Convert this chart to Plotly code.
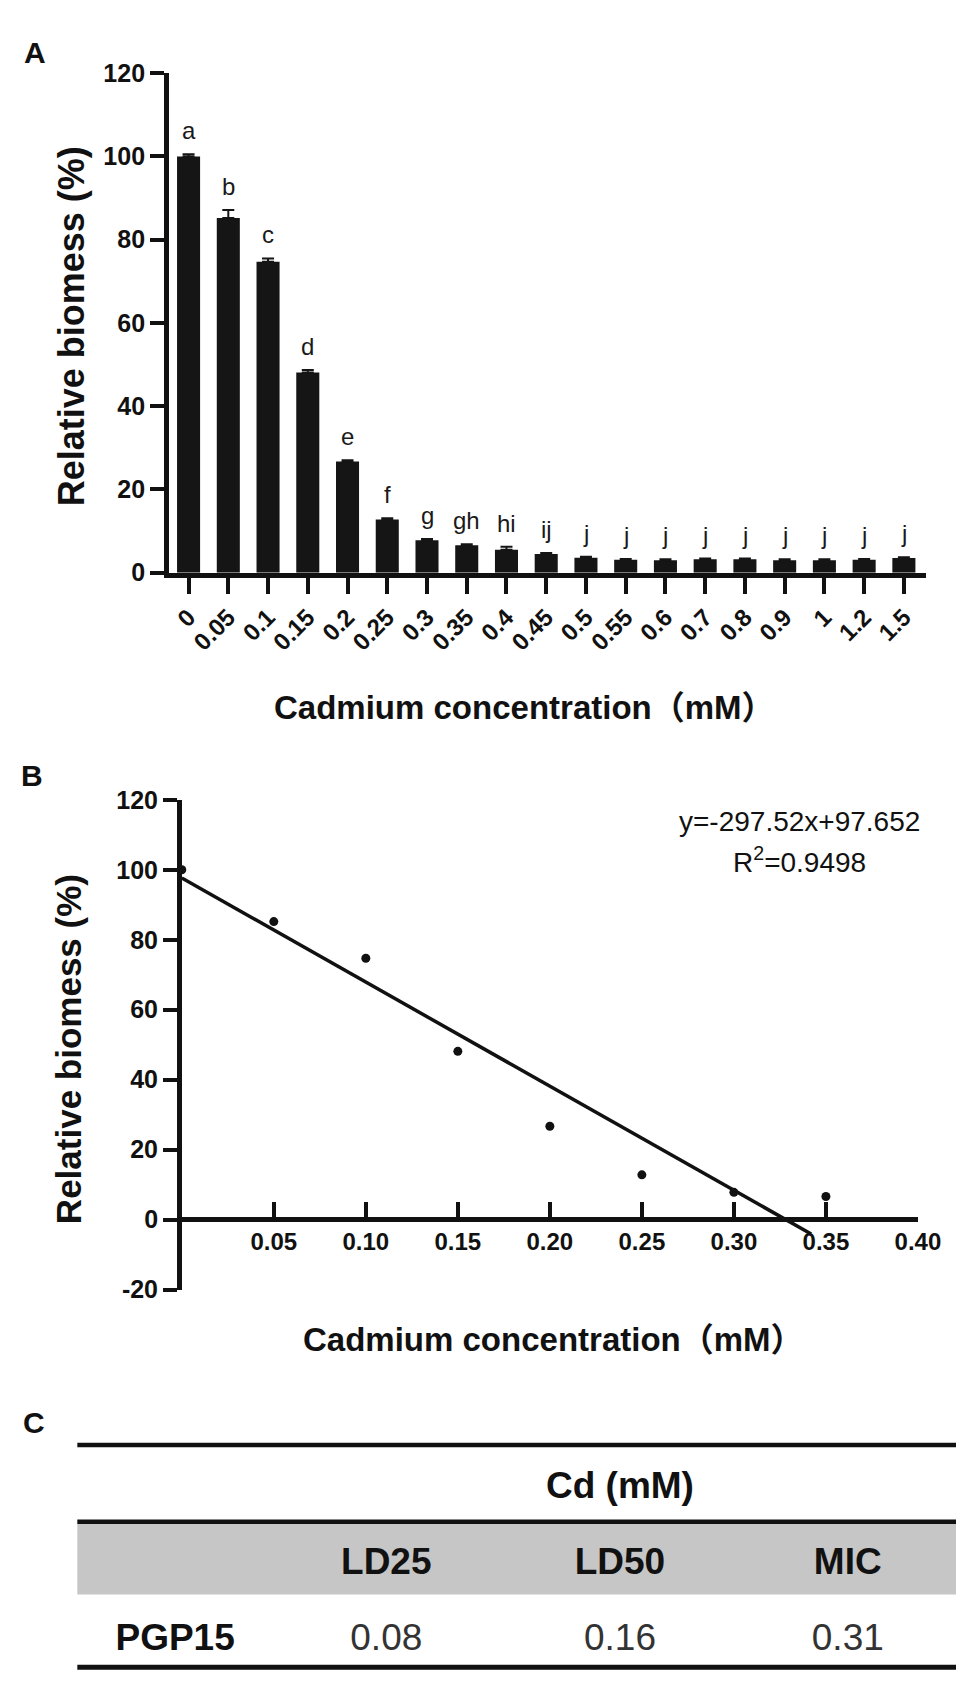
import plotly.graph_objects as go

W, H = 971, 1683

# data
conc_labels = ["0", "0.05", "0.1", "0.15", "0.2", "0.25", "0.3", "0.35", "0.4", "0.45",
               "0.5", "0.55", "0.6", "0.7", "0.8", "0.9", "1", "1.2", "1.5"]
biomass_mean = [100, 85.2, 74.7, 48.1, 26.7, 12.8, 7.8, 6.6, 5.5, 4.5,
                3.6, 3.1, 3.0, 3.2, 3.2, 3.0, 3.0, 3.1, 3.5]
biomass_err = [0.5, 1.9, 0.8, 0.6, 0.3, 0.3, 0.3, 0.2, 0.7, 0.2,
               0.2, 0.2, 0.2, 0.2, 0.2, 0.2, 0.2, 0.2, 0.2]
sig_letters = ["a", "b", "c", "d", "e", "f", "g", "gh", "hi", "ij",
               "j", "j", "j", "j", "j", "j", "j", "j", "j"]

# panel B: linear part of the curve
lin_conc = [0, 0.05, 0.10, 0.15, 0.20, 0.25, 0.30, 0.35]
lin_biomass = biomass_mean[:8]
fit_slope = -297.52
fit_intercept = 97.652
fit_r2 = 0.9498
fit_x = [0, 0.342]
fit_y = [fit_slope * v + fit_intercept for v in fit_x]
b_yticks = [-20, 0, 20, 40, 60, 80, 100, 120]

# panel C table
strain = ["PGP15"]
ld25 = ["0.08"]
ld50 = ["0.16"]
mic = ["0.31"]

FONT = "Liberation Sans, Arial, Noto Sans CJK SC, sans-serif"
CLEAR = "rgba(0,0,0,0)"


def fx(px):
    return px / W


def fy(px):
    return 1 - px / H


fig = go.Figure()

# ---- panel A: bars
fig.add_trace(go.Bar(
    x=conc_labels, y=biomass_mean,
    marker=dict(color="#151515", line=dict(width=0)),
    width=0.58,
    error_y=dict(type="data", array=biomass_err, arrayminus=[0] * len(biomass_err),
                 symmetric=False, color="#151515", thickness=2, width=6),
    xaxis="x", yaxis="y", showlegend=False,
))

# significance letters (category index used as x position)
for i, (m, e, s) in enumerate(zip(biomass_mean, biomass_err, sig_letters)):
    fig.add_annotation(x=i, y=m + e, xref="x", yref="y", text=s, showarrow=False,
                       yanchor="bottom", yshift=8,
                       font=dict(family=FONT, size=24, color="#1a1a1a"))

# ---- panel B: scatter + fit
fig.add_trace(go.Scatter(
    x=fit_x, y=fit_y, mode="lines", line=dict(color="#111", width=3.5),
    xaxis="x2", yaxis="y2", showlegend=False,
))
fig.add_trace(go.Scatter(
    x=lin_conc, y=lin_biomass, mode="markers", marker=dict(color="#111", size=9),
    xaxis="x2", yaxis="y2", showlegend=False, cliponaxis=False,
))

# ---- panel C: table (transparent cells, band + rules drawn as shapes)
fig.add_trace(go.Table(
    domain=dict(x=[fx(71), 1], y=[0, fy(1465)]),
    columnwidth=[200, 232, 246, 220],
    header=dict(
        values=[["", ""], ["", "LD25"], ["Cd (mM)", "LD50"], ["", "MIC"]],
        fill=dict(color=CLEAR),
        line=dict(width=0, color=CLEAR),
        align="center", height=76,
        font=dict(family=FONT, size=37, color="#111", weight="bold"),
    ),
    cells=dict(
        values=[strain, ld25, ld50, mic],
        fill=dict(color=CLEAR),
        line=dict(width=0, color=CLEAR),
        align="center", height=60,
        font=dict(family=FONT, size=37, color=["#111", "#333", "#333", "#333"],
                  weight=["bold", "normal", "normal", "normal"]),
    ),
))

fig.add_shape(type="rect", xref="paper", yref="paper", layer="below",
              x0=fx(71), x1=1, y0=fy(1599), y1=fy(1527),
              fillcolor="#c6c6c6", line=dict(width=0))
for yy, lw in [(1447, 4.5), (1525, 4.5), (1673, 5)]:
    fig.add_shape(type="line", xref="paper", yref="paper",
                  x0=fx(71), x1=1, y0=fy(yy), y1=fy(yy),
                  line=dict(color="#111", width=lw))

axis_common = dict(showgrid=False, zeroline=False, showline=True, linecolor="#111",
                   tickcolor="#111", color="#111")

fig.update_layout(
    width=W, height=H,
    margin=dict(l=0, r=0, t=0, b=0),
    paper_bgcolor="white", plot_bgcolor="white",
    font=dict(family=FONT, color="#111"),
    xaxis=dict(axis_common, domain=[fx(165), fx(940)], anchor="y",
               type="category", categoryorder="array", categoryarray=conc_labels,
               range=[-0.49, 18.55], linewidth=5,
               ticks="outside", ticklen=16, tickwidth=4, tickangle=-45,
               tickfont=dict(family=FONT, size=24, weight="bold")),
    yaxis=dict(axis_common, domain=[fy(560), fy(52)], anchor="x",
               range=[0, 120], dtick=20, linewidth=5,
               ticks="outside", ticklen=14, tickwidth=4,
               tickfont=dict(family=FONT, size=25, weight="bold")),
    xaxis2=dict(axis_common, domain=[fx(178), fx(932)], anchor="free",
                position=fy(1217), range=[0, 0.40],
                tickvals=[0.05, 0.10, 0.15, 0.20, 0.25, 0.30, 0.35, 0.40],
                tickformat=".2f", linewidth=4.5,
                ticks="inside", ticklen=15, tickwidth=4,
                tickfont=dict(family=FONT, size=24, weight="bold")),
    yaxis2=dict(axis_common, domain=[fy(1289), fy(791)], anchor="x2",
                range=[-20, 120], tickvals=b_yticks,
                ticktext=[str(v) for v in b_yticks], linewidth=4.5,
                ticks="outside", ticklen=14, tickwidth=4,
                tickfont=dict(family=FONT, size=25, weight="bold")),
)

# panel letters, axis titles, fit equation
texts = [
    ("A", 28, 31, 30, True, 0),
    ("B", 25, 766, 30, True, 0),
    ("C", 27, 1424, 30, True, 0),
    ("Relative biomess (%)", 65, 309, 36, True, -90),
    ("Relative biomess (%)", 62, 1045, 35, True, -90),
    ("Cadmium concentration\uff08mM\uff09", 529, 697, 33, True, 0),
    ("Cadmium concentration\uff08mM\uff09", 559, 1340, 33, True, 0),
    ("y=-297.52x+97.652", 811, 813, 28, False, 0),
    (f"R<sup>2</sup>={fit_r2}", 811, 852, 28, False, 0),
]
for t, x, y, size, bold, ang in texts:
    fig.add_annotation(text=t, x=fx(x), y=fy(y), xref="paper", yref="paper",
                       showarrow=False, textangle=ang, xanchor="center", yanchor="middle",
                       font=dict(family=FONT, size=size, color="#111",
                                 weight="bold" if bold else "normal"))

fig.write_html("out.html")
